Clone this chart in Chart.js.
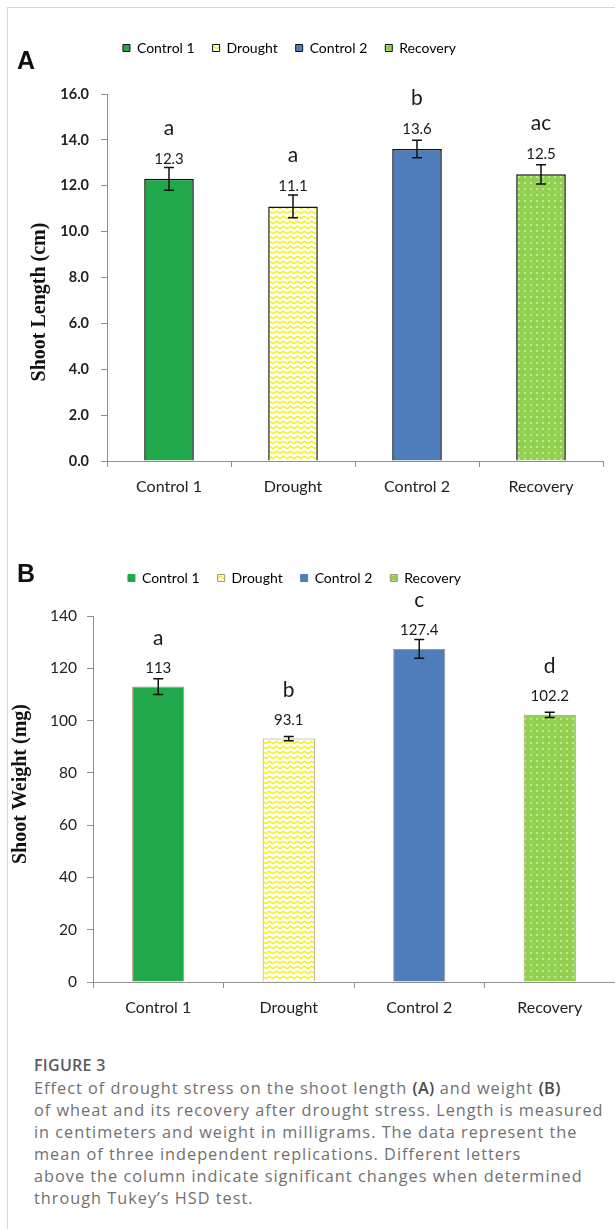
<!DOCTYPE html>
<html>
<head>
<meta charset="utf-8">
<script src="https://cdn.jsdelivr.net/npm/chart.js@4.4.1/dist/chart.umd.min.js"></script>
<style>
  body { margin: 0; background: #fff; }
  #page { position: relative; width: 615px; height: 1229px; overflow: hidden; }
  #frame { position: absolute; left: 7px; top: 7px; width: 700px; height: 1300px;
           border-left: 1px solid #d6d6d6; border-top: 1px solid #d6d6d6; }
  canvas { position: absolute; left: 0; }
  .tag { position: absolute; left: 17px; font: bold 25px "Liberation Sans", Arial, sans-serif; color: #111; }
  #caption { position: absolute; left: 34px; top: 1054px; white-space: nowrap;
             font-family: "Open Sans", sans-serif; font-size: 16.3px; letter-spacing: 1px;
             line-height: 22px; color: #707070; }
  #caption .fig { font-size: 16px; font-weight: 600; color: #5a5a5a; line-height: 23px; letter-spacing: 0.3px; }
  #caption b { color: #4a4a4a; font-weight: 600; letter-spacing: 0.3px; }
</style>
</head>
<body>
<div id="page">
  <div id="frame"></div>
  <canvas id="length_canvas" width="615" height="530" style="top:0"></canvas>
  <canvas id="weight_canvas" width="615" height="500" style="top:530px"></canvas>
  <div class="tag" style="top:46px">A</div>
  <div class="tag" style="top:559px">B</div>
  <div id="caption">
    <div class="fig">FIGURE 3</div>
    Effect of drought stress on the shoot length <b>(A)</b> and weight <b>(B)</b><br>
    of wheat and its recovery after drought stress. Length is measured<br>
    in centimeters and weight in milligrams. The data represent the<br>
    mean of three independent replications. Different letters<br>
    above the column indicate significant changes when determined<br>
    through Tukey’s HSD test.
  </div>
</div>
<script>
const categories = ['Control 1', 'Drought', 'Control 2', 'Recovery']

const lengthValues = [12.3, 11.1, 13.6, 12.5]
const lengthErrors = [0.5, 0.5, 0.38, 0.42]
const lengthLetters = ['a', 'a', 'b', 'ac']
const lengthTicks = [0, 2, 4, 6, 8, 10, 12, 14, 16]

const weightValues = [113, 93.1, 127.4, 102.2]
const weightErrors = [3, 0.8, 3.6, 1]
const weightLetters = ['a', 'b', 'c', 'd']
const weightTicks = [0, 20, 40, 60, 80, 100, 120, 140]


// fills: solid green, yellow zigzag, solid blue, green with white dots
function zigzag() {
    let c = document.createElement('canvas')
    c.width = 7; c.height = 5
    let g = c.getContext('2d')
    g.fillStyle = '#fff'
    g.fillRect(0, 0, 7, 5)
    g.strokeStyle = '#f4f000'
    g.lineWidth = 1.3
    g.beginPath()
    g.moveTo(0, 3.6); g.lineTo(3.5, 1.2); g.lineTo(7, 3.6)
    g.stroke()
    return g.createPattern(c, 'repeat')
}

function dots() {
    let c = document.createElement('canvas')
    c.width = 6; c.height = 6
    let g = c.getContext('2d')
    g.fillStyle = '#92d050'
    g.fillRect(0, 0, 6, 6)
    g.fillStyle = 'rgba(255,255,255,0.95)'
    g.beginPath()
    g.arc(3, 3, 0.8, 0, Math.PI * 2)
    g.fill()
    return g.createPattern(c, 'repeat')
}

const fills = ['#21a84a', zigzag(), '#4e7dbc', dots()]


// letters, value labels and error bars above each bar
const barNotes = {
    id: 'barNotes',
    afterDatasetsDraw(chart, args, opts) {
        let ctx = chart.ctx
        let y = chart.scales.y
        let ds = chart.data.datasets[0]
        ctx.save()
        chart.getDatasetMeta(0).data.forEach((bar, i) => {
            let v = ds.data[i], e = ds.errors[i]
            let top = y.getPixelForValue(v + e), bot = y.getPixelForValue(v - e)
            ctx.strokeStyle = '#111'
            ctx.lineWidth = 1.5
            ctx.beginPath()
            ctx.moveTo(bar.x, top); ctx.lineTo(bar.x, bot)
            ctx.moveTo(bar.x - 5, top); ctx.lineTo(bar.x + 5, top)
            ctx.moveTo(bar.x - 5, bot); ctx.lineTo(bar.x + 5, bot)
            ctx.stroke()

            ctx.fillStyle = '#1a1a1a'
            ctx.textAlign = 'center'
            ctx.textBaseline = 'middle'
            ctx.font = '15px Lato'
            ctx.fillText(String(v), bar.x, bar.y - opts.valueGap)
            ctx.font = '21px Lato'
            ctx.fillText(ds.letters[i], bar.x, bar.y - opts.valueGap - opts.letterGap)
        })
        ctx.restore()
    }
}

// rotated y title
const axisTitle = {
    id: 'axisTitle',
    afterDraw(chart, args, opts) {
        let ctx = chart.ctx
        ctx.save()
        ctx.translate(opts.x, opts.y)
        ctx.rotate(-Math.PI / 2)
        ctx.font = 'bold 20px "Liberation Serif"'
        ctx.fillStyle = '#111'
        ctx.textAlign = 'center'
        ctx.textBaseline = 'middle'
        ctx.fillText(opts.text, 0, 0)
        ctx.restore()
    }
}

// move the legend up/left, closer to where the original figure has it
const legendShift = {
    id: 'legendShift',
    afterUpdate(chart, args, opts) {
        let lg = chart.legend
        lg.left += opts.dx; lg.right += opts.dx
        lg.top += opts.dy; lg.bottom += opts.dy
    }
}


function makeChart(canvas, p) {
    return new Chart(canvas, {
        type: 'bar',
        data: {
            labels: categories,
            datasets: [{
                data: p.values,
                errors: p.errors,
                letters: p.letters,
                backgroundColor: fills,
                borderColor: p.border,
                borderWidth: p.borderWidth,
                barPercentage: 0.4,
                categoryPercentage: 1
            }]
        },
        options: {
            responsive: false,
            animation: false,
            layout: { padding: p.padding },
            scales: {
                x: {
                    grid: { offset: true, drawOnChartArea: false, tickLength: 6, color: '#8f8f8f' },
                    border: { color: '#8f8f8f' },
                    ticks: { color: '#222', padding: 10, font: { family: 'Lato', size: 16 } },
                    afterFit: s => { s.height = p.xHeight }
                },
                y: {
                    min: 0,
                    max: p.ticks[p.ticks.length - 1],
                    afterBuildTicks: s => { s.ticks = p.ticks.map(v => ({ value: v })) },
                    grid: { drawOnChartArea: false, tickLength: 6, color: '#8f8f8f' },
                    border: { color: '#8f8f8f' },
                    ticks: {
                        color: '#222',
                        padding: p.yPad,
                        font: p.yFont,
                        callback: v => p.fmt(v)
                    },
                    afterFit: s => { s.width = p.yWidth }
                }
            },
            plugins: {
                tooltip: { enabled: false },
                legend: {
                    position: 'top',
                    labels: {
                        color: '#1a1a1a',
                        font: { family: 'Lato', size: 14 },
                        boxWidth: 7,
                        boxHeight: 7,
                        padding: 18,
                        generateLabels: () => categories.map((c, i) => ({
                            text: c,
                            fillStyle: fills[i],
                            strokeStyle: p.legendStroke[i],
                            lineWidth: 1,
                            hidden: false,
                            index: i,
                            datasetIndex: 0
                        }))
                    }
                },
                legendShift: p.shift,
                axisTitle: p.title,
                barNotes: p.notes
            }
        },
        plugins: [legendShift, axisTitle, barNotes]
    })
}


makeChart(document.getElementById('length_canvas'), {
    values: lengthValues,
    errors: lengthErrors,
    letters: lengthLetters,
    ticks: lengthTicks,
    fmt: v => v.toFixed(1),
    border: '#111',
    borderWidth: 1.5,
    legendStroke: ['#111', '#111', '#111', '#111'],
    padding: { left: 0, right: 12, top: 52, bottom: 0 },
    xHeight: 69,
    yWidth: 107,
    yPad: 12,
    yFont: { family: 'Lato', size: 14.5, weight: 'bold' },
    shift: { dx: -12, dy: -29 },
    title: { text: 'Shoot Length (cm)', x: 40, y: 302 },
    notes: { valueGap: 20, letterGap: 31 }
})

makeChart(document.getElementById('weight_canvas'), {
    values: weightValues,
    errors: weightErrors,
    letters: weightLetters,
    ticks: weightTicks,
    fmt: v => String(v),
    border: '#a8986a',
    borderWidth: 1,
    legendStroke: ['#21a84a', '#a8986a', '#4e7dbc', '#a8986a'],
    padding: { left: 0, right: 0, top: 44, bottom: 0 },
    xHeight: 48,
    yWidth: 93,
    yPad: 10,
    yFont: { family: 'Lato', size: 15.5 },
    shift: { dx: -13, dy: -21 },
    title: { text: 'Shoot Weight (mg)', x: 21, y: 254 },
    notes: { valueGap: 18.5, letterGap: 30 }
})
</script>
</body>
</html>
